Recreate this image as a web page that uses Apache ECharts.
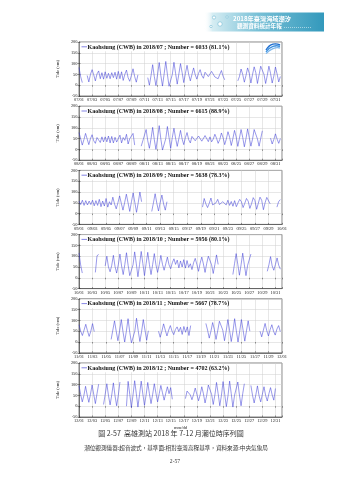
<!DOCTYPE html>
<html>
<head>
<meta charset="utf-8">
<script src="https://cdn.jsdelivr.net/npm/echarts@6/dist/echarts.min.js"></script>
<style>
  html, body { margin: 0; padding: 0; background: #fff; }
  #chart { width: 339px; height: 480px; }
</style>
</head>
<body>
<div id="chart"></div>
<script>
// ---- 高雄測站 2018 年 7-12 月潮位（每 6 小時一筆，null 為缺測）----
var monthLabels = ['2018/07', '2018/08', '2018/09', '2018/10', '2018/11', '2018/12'];
var monthIndex = [6, 7, 8, 9, 10, 11];
var monthDays = [31, 31, 30, 31, 30, 31];
var numbers = ['6033 (81.1%)', '6615 (88.9%)', '5638 (78.3%)', '5956 (80.1%)', '5667 (78.7%)', '4702 (63.2%)'];
var yTicks = [-50, 0, 50, 100, 150, 200];

var tide07 = [
  82, 40, 12, null,    null, 45, 15, 50,
  72, 48, 20, 52,      66, 30, 58, 28,
  62, 32, 55, 30,      58, 35, 60, 28,
  64, 30, 62, 22,      50, 70, 35, 18,
  45, 76, 40, 14,      48, null, null, null,
  null, null, 35, 0,   45, 95, 40, -2,
  50, 105, 45, -4,     52, 110, 50, -5,
  0, 50, 106, 55,      5, 52, 100, 58,
  12, 55, 92, 50,      20, 50, 80, 48,
  28, 55, 72, 45,      32, 60, 66, 40,
  35, 64, 58, 38,      45, 30, 50, 68,
  42, 25, null, null,  null, null, null, null,
  null, 20, 40, 75,    50, 14, 45, 80,
  55, 10, 50, 85,      58, 8, 48, 88,
  90, 50, 8, 45,       88, 55, 10, 42,
  84, 52, 15, 40
];
var tide08 = [
  78, 50, 20, 45,      74, 48, 22, 50,
  68, 40, 28, 55,      62, 32, 58, 35,
  58, 35, 62, 30,      60, 30, 56, 34,
  38, 66, 30, 55,      42, 70, 25, 50,
  45, 74, 20, null,    null, null, 15, 40,
  48, 92, 40, 5,       50, 102, 45, 0,
  52, 110, 48, -3,     -2, 50, 106, 55,
  5, 55, 98, 52,       14, 50, 88, 48,
  22, 55, 78, 45,      30, 60, 68, 40,
  35, 62, 60, 38,      38, 64, 56, 36,
  58, 35, 48, 70,      52, 28, 46, 76,
  54, 22, 48, 82,      56, 18, 50, 88,
  58, 14, 52, 92,      56, 12, 50, 95,
  55, 15, 48, 92,      88, 48, 15, 50,
  86, null, null, null, null, 52, 25, 46,
  72, 48, 28, 50
];
var tide09 = [
  58, 42, 62, 38,      60, 40, 58, 42,
  62, 36, 60, 38,      66, 32, 58, 35,
  70, 30, 55, 40,      76, 45, 22, 50,
  82, 48, 16, 52,      90, 50, 10, 55,
  96, 52, 6, 50,       100, 55, null, null,
  null, null, null, 10, 50, 92, 48, 12,
  52, 86, 45, 16,      55, null, null, null,
  null, null, null, null, null, null, null, null,
  null, null, null, null, null, null, null, null,
  null, 30, 70, 45,    28, 48, 72, 40,
  32, 50, 66, 42,      36, 55, 60, 40,
  62, 38, 56, 34,      60, 32, 50, 66,
  55, 28, 48, 70,      58, 24, 46, 74,
  60, 20, 48, 76,      62, 18, 50, 75,
  74, 45, null, null,  null, 30, 55, 65
];
var tide10 = [
  115, 60, 22, null,   null, null, null, null,
  null, null, 25, 102, 108, null, null, null,
  55, 100, 50, 28,     58, 104, 52, 22,
  60, 110, 55, 15,     62, 116, 58, 10,
  8, 60, 120, 65,      5, 62, 122, 66,
  10, 65, 118, 62,     15, 62, 112, 60,
  25, 60, 104, 62,     35, 65, 96, 60,
  42, 70, 88, 62,      82, 46, 78, 50,
  84, 45, 80, 48,      65, 38, 70, 90,
  62, 30, 68, 96,      64, 25, 66, 100,
  102, 60, 20, 62,     106, 62, null, null,
  null, null, null, null, null, null, 15, 65,
  112, 62, 12, 60,     114, 60, 10, 58,
  58, 110, null, null, null, null, null, null,
  null, null, null, 30, 60, 98, 55, 35,
  62, 92, 58, 40
];
var tide11 = [
  80, 50, 30, 55,      82, 52, 26, 50,
  85, 48, null, null,  null, null, null, null,
  null, null, null, 12, 55, 98, 50, 6,
  52, 104, 48, 0,      50, 108, 45, -4,
  -5, 50, 110, 52,     2, 48, 104, 55,
  8, 52, null, null,   null, null, null, 50,
  22, 50, 84, 55,      28, 55, 76, 50,
  34, 58, 70, 48,      68, 35, 72, 45,
  70, 30, 76, null,    null, null, null, null,
  null, null, null, 86, 55, 18, 50, 90,
  58, 12, 52, 96,      100, 55, 6, 50,
  104, 55, 2, 48,      108, 52, 0, 50,
  104, 55, 4, 52,      98, 50, null, null,
  null, null, null, 50, 24, 55, 86, 52,
  28, 58, 80, 50,      32, 60, 76, 48
];
var tide12 = [
  95, 55, 20, 50,      92, 52, 18, 55,
  98, 55, 12, 58,      102, null, null, 8,
  55, 104, 50, 6,      52, 108, 48, 2,
  50, 112, null, null, null, 0, 115, 55,
  -6, 52, 118, 58,     -4, 55, 116, 56,
  4, 52, 110, 58,      12, 55, 104, 60,
  20, 58, 96, 62,      28, 60, 90, 58,
  86, 32, null, null,  null, null, null, null,
  null, 35, 70, 78,    52, 30, 55, 84,
  55, 25, 52, 90,      58, 15, 50, 98,
  102, 55, 8, 52,      110, 58, 2, 50,
  114, 55, -2, 48,     116, 58, -4, 50,
  55, 112, 52, 2,      58, 104, null, null,
  null, 96, 50, 15,    52, 94, 48, 20,
  55, 90, 50, 24,      58, 86, 52, 28,
  82, null, null, null
];
var tideSets = [tide07, tide08, tide09, tide10, tide11, tide12];

(function () {
  'use strict';

  var GRID_LEFT = 79, GRID_WIDTH = 203, GRID_TOP = 42, GRID_STEP = 64.2, GRID_HEIGHT = 54;
  var SERIF = '"Liberation Serif", "DejaVu Serif", serif';
  var CJK = '"Noto Sans CJK TC", "Noto Sans CJK SC", sans-serif';
  var LINE_COLOR = '#3434d4';

  function pad(n) { return n < 10 ? '0' + n : '' + n; }

  // x 軸標籤：每 2 天一個 mm/dd
  function dayFormatter(m) {
    return function (v) {
      if (Math.round(v) % 2 !== 0) return '';
      var d = new Date(Date.UTC(2018, m, 1 + Math.round(v)));
      return pad(d.getUTCMonth() + 1) + '/' + pad(d.getUTCDate());
    };
  }

  var grids = [], xAxes = [], yAxes = [], series = [], graphics = [];

  tideSets.forEach(function (vals, i) {
    var top = GRID_TOP + GRID_STEP * i;
    grids.push({
      left: GRID_LEFT, top: top, width: GRID_WIDTH, height: GRID_HEIGHT,
      show: true, borderColor: '#333', borderWidth: 0.6, backgroundColor: '#fff'
    });

    // 下方 x 軸（含標籤與格線）
    xAxes.push({
      type: 'value', gridIndex: i, min: 0, max: monthDays[i], interval: 2,
      position: 'bottom',
      name: i === 5 ? 'mm/dd' : '', nameLocation: 'middle', nameGap: 8.5,
      nameTextStyle: { fontSize: 4.6, fontFamily: SERIF, color: '#222' },
      axisLine: { show: true, onZero: false, lineStyle: { color: '#333', width: 0.6 } },
      axisTick: { show: true, inside: true, length: 1.5, lineStyle: { color: '#333', width: 0.5 } },
      splitLine: { show: true, lineStyle: { color: '#cfcfcf', width: 0.5 } },
      axisLabel: { fontSize: 4.4, margin: 2, color: '#222', fontFamily: SERIF,
        formatter: dayFormatter(monthIndex[i]) }
    });
    // 上方鏡像刻度
    xAxes.push({
      type: 'value', gridIndex: i, min: 0, max: monthDays[i], interval: 2,
      position: 'top',
      axisLine: { show: false },
      axisTick: { show: true, inside: true, length: 1.5, lineStyle: { color: '#333', width: 0.5 } },
      splitLine: { show: false }, axisLabel: { show: false }
    });

    yAxes.push({
      type: 'value', gridIndex: i, min: -50, max: 200, interval: 50,
      position: 'left',
      name: 'Tide (cm)', nameLocation: 'middle', nameGap: 9, nameRotate: 90,
      nameTextStyle: { fontSize: 4.6, fontFamily: SERIF, color: '#222' },
      axisLine: { show: true, lineStyle: { color: '#333', width: 0.6 } },
      axisTick: { show: true, inside: true, length: 1.5, lineStyle: { color: '#333', width: 0.5 } },
      splitLine: { show: true, lineStyle: { color: '#cfcfcf', width: 0.5 } },
      axisLabel: { fontSize: 4.4, margin: 1.5, color: '#222', fontFamily: SERIF,
        formatter: function (v) { return yTicks.indexOf(v) >= 0 ? String(v) : ''; } }
    });
    yAxes.push({
      type: 'value', gridIndex: i, min: -50, max: 200, interval: 50,
      position: 'right',
      axisLine: { show: false },
      axisTick: { show: true, inside: true, length: 1.5, lineStyle: { color: '#333', width: 0.5 } },
      splitLine: { show: false }, axisLabel: { show: false }
    });

    series.push({
      type: 'line', xAxisIndex: 2 * i, yAxisIndex: 2 * i,
      showSymbol: false, symbol: 'none', connectNulls: false,
      lineStyle: { color: LINE_COLOR, width: 0.5 },
      data: vals.map(function (v, k) { return [k / 4, v]; })
    });

    // 圖例（白底方框 + 藍線 + 標題文字）
    graphics.push({
      type: 'rect', z: 100,
      shape: { x: GRID_LEFT + 0.8, y: top + 0.8, width: 133, height: 8.5 },
      style: { fill: '#fff' }
    });
    graphics.push({
      type: 'line', z: 101,
      shape: { x1: GRID_LEFT + 2.5, y1: top + 4.8, x2: GRID_LEFT + 8, y2: top + 4.8 },
      style: { stroke: LINE_COLOR, lineWidth: 0.6 }
    });
    graphics.push({
      type: 'text', z: 101, x: GRID_LEFT + 8.6, y: top + 5,
      style: {
        text: 'Kaohsiung (CWB) in ' + monthLabels[i] + ' ; Number = ' + numbers[i],
        font: 'bold 6px ' + SERIF, fill: '#111', verticalAlign: 'middle'
      }
    });
  });

  // 右上角標誌
  [['#1f6fd0', 0], ['#3f92e0', 3], ['#7fb8ec', 6]].forEach(function (c) {
    graphics.push({
      type: 'bezierCurve', z: 102,
      shape: { x1: 266, y1: 50 + c[1] * 0.6, cpx1: 270, cpy1: 43 + c[1], cpx2: 276, cpy2: 43 + c[1] * 0.6, x2: 280, y2: 45 + c[1] * 0.5 },
      style: { stroke: c[0], lineWidth: 1.4, fill: null }
    });
  });

  // 頁首橫幅
  graphics.push({
    type: 'rect', z: 1,
    shape: { x: 204, y: 12.5, width: 120, height: 19 },
    style: {
      fill: new echarts.graphic.LinearGradient(0, 0, 1, 0, [
        { offset: 0, color: 'rgba(255,255,255,0)' },
        { offset: 0.07, color: '#d6edf3' },
        { offset: 0.45, color: '#78c0d6' },
        { offset: 1, color: '#3399bc' }
      ])
    }
  });
  [[214, 17.5, 1.6], [220, 24, 2.2], [211, 26.5, 1.2], [227, 17, 1.1]].forEach(function (c) {
    graphics.push({
      type: 'circle', z: 2, shape: { cx: c[0], cy: c[1], r: c[2] },
      style: { fill: '#fff', stroke: '#5fb0cc', lineWidth: 0.5 }
    });
  });
  graphics.push({
    type: 'text', z: 3, x: 233, y: 19,
    style: { text: '2018年臺灣海域潮汐', font: 'bold 6.2px ' + CJK, fill: '#fff', verticalAlign: 'middle' }
  });
  graphics.push({
    type: 'text', z: 3, x: 237, y: 26,
    style: { text: '觀測資料統計年報', font: 'bold 5.6px ' + CJK, fill: '#fff', verticalAlign: 'middle' }
  });
  graphics.push({
    type: 'line', z: 3,
    shape: { x1: 284, y1: 27.5, x2: 312, y2: 27.5 },
    style: { stroke: '#fff', lineWidth: 0.5, lineDash: [1, 1] }
  });

  // 圖說
  graphics.push({
    type: 'text', x: 171, y: 433.5,
    style: { text: '圖 2-57  高雄測站 2018 年 7-12 月潮位時序列圖', font: '7px ' + CJK,
      fill: '#333', align: 'center', verticalAlign: 'middle' }
  });
  graphics.push({
    type: 'text', x: 176, y: 447.5,
    style: { text: '潮位觀測儀器:超音波式，基準面:相對臺灣高程基準，資料來源:中央氣象局', font: '5.6px ' + CJK,
      fill: '#333', align: 'center', verticalAlign: 'middle' }
  });
  graphics.push({
    type: 'text', x: 175, y: 461.5,
    style: { text: '2-57', font: '5.6px ' + SERIF, fill: '#333', align: 'center', verticalAlign: 'middle' }
  });

  var chart = echarts.init(document.getElementById('chart'), null, { renderer: 'canvas' });
  chart.setOption({
    animation: false,
    backgroundColor: '#fff',
    grid: grids,
    xAxis: xAxes,
    yAxis: yAxes,
    series: series,
    graphic: graphics
  });
})();
</script>
</body>
</html>
